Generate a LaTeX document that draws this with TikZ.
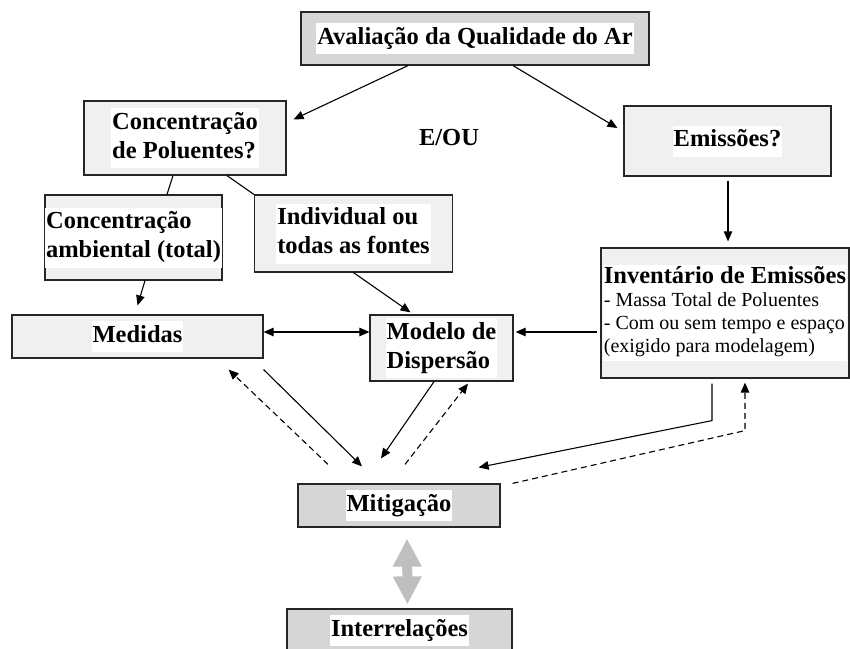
\documentclass[tikz,border=0pt]{standalone}
\usepackage{fontspec}
\setmainfont{Liberation Serif}
\usetikzlibrary{positioning, arrows.meta, calc}

\newcommand{\wbox}[1]{{\setlength{\fboxsep}{1pt}\colorbox{white}{\begin{tabular}{@{}l@{}}#1\end{tabular}}}}
\newcommand{\plaintxt}{\fontsize{20}{23}\selectfont\mdseries}

\begin{document}
\begin{tikzpicture}[x=1pt, y=-1pt,
	lbl/.style={font=\fontsize{24.5}{29}\selectfont\bfseries},
	box/.style={lbl, draw=black!85, line width=1.2pt, inner sep=0pt},
	lightbox/.style={box, fill=black!6},
	greybox/.style={box, fill=black!16},
	link/.style={line width=1.1pt},
	flow/.style={link, -{Triangle[length=10pt,width=8.5pt]}},
	both/.style={link, {Triangle[length=10pt,width=8.5pt]}-{Triangle[length=10pt,width=8.5pt]}},
	back/.style={flow, dash pattern=on 6pt off 4pt},
	fat/.style={line width=10pt, black!25, {Triangle[length=28pt,width=27pt]}-{Triangle[length=28pt,width=27pt]}}]

	\useasboundingbox (0,0) rectangle (850,648);

	\node[greybox, minimum width=348pt, minimum height=53pt] (aval) at (475,38.5) {\wbox{Avaliação da Qualidade do Ar}};
	\node[lightbox, minimum width=202pt, minimum height=74pt] (conc) at (185,138) {\wbox{Concentração\\de Poluentes?}};
	\node[lbl] (eou) at (449,138) {E/OU};
	\node[lightbox, minimum width=207pt, minimum height=70pt] (emis) at (727.5,141) {\wbox{Emissões?}};
	\node[lightbox, minimum width=177pt, minimum height=85pt] (amb) at (133.5,237.5) {\wbox{Concentração\\ambiental (total)}};
	\node[lightbox, minimum width=198pt, minimum height=77pt] (ind) at (353.5,233.5) {\wbox{Individual ou\\todas as fontes}};
	\node[lightbox, minimum width=248pt, minimum height=130pt] (inv) at (725,313)
		{\wbox{\renewcommand{\arraystretch}{0.8}\begin{tabular}{@{}l@{}}\fontsize{24.5}{26}\selectfont Inventário de Emissões\\
		\plaintxt - Massa Total de Poluentes\\
		\plaintxt - Com ou sem tempo e espaço\\
		\plaintxt (exigido para modelagem)\end{tabular}}};
	\node[lightbox, minimum width=251pt, minimum height=43pt] (med) at (137.5,336.5) {\wbox{Medidas}};
	\node[lightbox, minimum width=143pt, minimum height=66pt] (mod) at (441.5,348) {\wbox{Modelo de\\Dispersão}};
	\node[greybox, minimum width=202pt, minimum height=43pt] (mit) at (399,505.5) {\wbox{Mitigação}};
	\node[greybox, minimum width=225pt, minimum height=43pt] (int) at (399.5,630.5) {\wbox{Interrelações}};

	% top level
	\draw[flow] ([shift={(-67,0)}]aval.south) -- ([shift={(7,19)}]conc.north east);
	\draw[flow] ([shift={(38,0)}]aval.south) -- ([shift={(-6,-13)}]emis.west);
	\draw[link] ([shift={(-12,0)}]conc.south) -- ([shift={(33.5,0)}]amb.north);
	\draw[link] ([shift={(42,0)}]conc.south) -- (ind.north west);
	\draw[flow] ([shift={(11.5,0)}]amb.south) -- ([shift={(0,-9)}]med.north);
	\draw[flow] (ind.south) -- ([shift={(-31,-2)}]mod.north);
	\draw[flow] ([shift={(0.5,4)}]emis.south) -- ([shift={(3,-6)}]inv.north);

	% middle row
	\draw[both] ([shift={(0,-4.5)}]med.east) -- ([shift={(0,-16)}]mod.west);
	\draw[flow] ([shift={(-3,19)}]inv.west) -- ([shift={(2,-16)}]mod.east);

	% towards mitigation and back
	\draw[flow] ([shift={(0,11)}]med.south east) -- ([shift={(-37,-17)}]mit.north);
	\draw[back] ([shift={(-71,-19)}]mit.north) -- ([shift={(-35,11)}]med.south east);
	\draw[flow] ([shift={(-7.5,0)}]mod.south) -- ([shift={(-18,-25)}]mit.north);
	\draw[back] ([shift={(6,-19)}]mit.north) -- ([shift={(26.5,2)}]mod.south);
	\draw[flow] ([shift={(-13,5)}]inv.south) -- ++(0,37) -- ([shift={(-22,-16)}]mit.north east);
	\draw[back] ([shift={(12,0)}]mit.north east) -- ([shift={(20,52)}]inv.south) -- ([shift={(20,4)}]inv.south);

	\draw[fat] ([shift={(8,11)}]mit.south) -- ([shift={(8,-4)}]int.north);
\end{tikzpicture}
\end{document}
